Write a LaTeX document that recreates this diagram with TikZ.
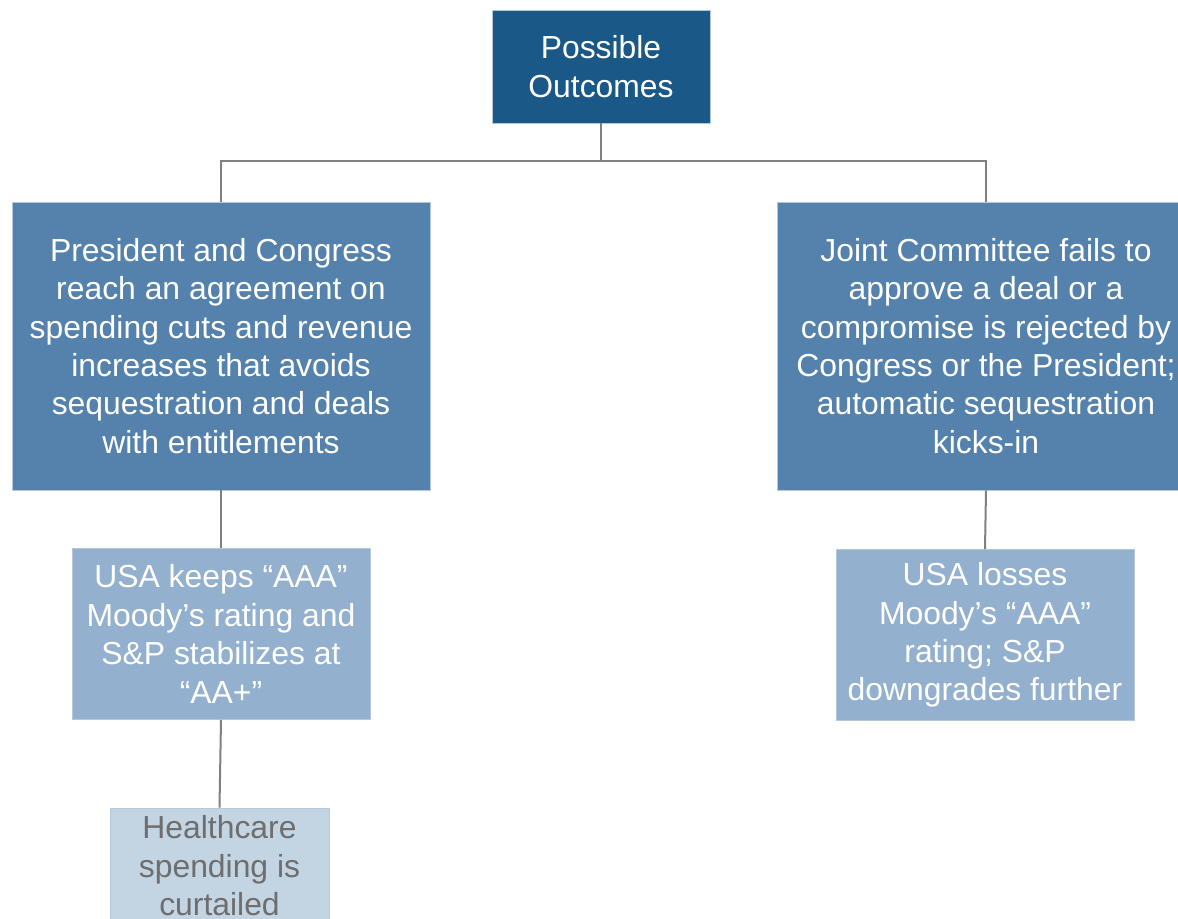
\documentclass[tikz,border=0pt]{standalone}
\usepackage{fontspec}
\setmainfont{Liberation Sans}
\usepackage{tikz}
\usetikzlibrary{calc}
\definecolor{topblue}{HTML}{1A5888}
\definecolor{midblue}{HTML}{5482AC}
\definecolor{lowblue}{HTML}{93B1CE}
\definecolor{paleblue}{HTML}{C3D4E3}
\definecolor{edgeblue}{HTML}{B4C8DC}
\definecolor{linkgray}{HTML}{808080}
\definecolor{textgray}{HTML}{6E6E6E}
\tikzset{
    outbox/.style={draw=edgeblue, line width=0.6pt, inner sep=0pt, align=center, text=white,
        font=\fontsize{23.9}{28.8}\selectfont},
    link/.style={draw=linkgray, line width=1.5pt}
}

\begin{document}
\begin{tikzpicture}[x=0.75pt, y=-0.75pt]
            \useasboundingbox (0,0) rectangle (1178,919);
            \node[outbox, fill=topblue, minimum width=163.5pt, minimum height=84.75pt] (top) at (601,66.5) {Possible\\Outcomes};
            \node[outbox, fill=midblue, minimum width=313.5pt, minimum height=216pt] (agree) at (221,346) {President and Congress\\reach an agreement on\\spending cuts and revenue\\increases that avoids\\sequestration and deals\\with entitlements};
            \node[outbox, fill=midblue, minimum width=313.5pt, minimum height=216pt] (fail) at (986,346) {Joint Committee fails to\\approve a deal or a\\compromise is rejected by\\Congress or the President;\\automatic sequestration\\kicks-in};
            \node[outbox, fill=lowblue, minimum width=223.5pt, minimum height=128.25pt] (keep) at (221,634) {USA keeps “AAA”\\Moody’s rating and\\S\&P stabilizes at\\“AA+”};
            \node[outbox, fill=lowblue, minimum width=223.5pt, minimum height=128.25pt] (lose) at (985,635) {USA losses\\Moody’s “AAA”\\rating; S\&P\\downgrades further};
            \node[outbox, fill=paleblue, text=textgray, minimum width=164.25pt, minimum height=87pt] (health) at (219.5,866) {Healthcare\\spending is\\curtailed};
            \coordinate (split) at (601,161);
            % tree links
            \draw[link] (top.south) -- (split);
            \draw[link] (agree.north) |- (split) -| (fail.north);
            \draw[link] (agree.south) -- (keep.north);
            \draw[link] (keep.south) -- (health.north);
            \draw[link] (fail.south) -- (lose.north);
\end{tikzpicture}
\end{document}
